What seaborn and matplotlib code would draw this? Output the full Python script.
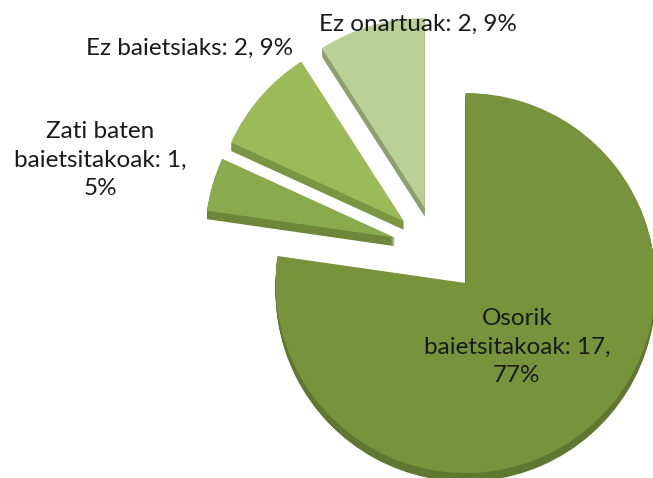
import matplotlib
matplotlib.use("Agg")
import matplotlib.pyplot as plt
import seaborn as sns
import numpy as np

# data
categories = ["Osorik baietsitakoak", "Zati baten baietsitakoak", "Ez baietsiaks", "Ez onartuak"]
counts = [17, 1, 2, 2]
percents = [77, 5, 9, 9]
label_text = [
    "Osorik\nbaietsitakoak: 17,\n77%",
    "Zati baten\nbaietsitakoak: 1,\n5%",
    "Ez baietsiaks: 2, 9%",
    "Ez onartuak: 2, 9%",
]
top_colors = ["#77933C", "#8AAA4E", "#9BBB59", "#BBD097"]
side_colors = ["#5F7730", "#6C873A", "#7A9642", "#8FA070"]

sns.set_theme(style="white")
plt.rcParams["font.family"] = ["Lato", "DejaVu Sans"]

W, H = 653, 478
fig = plt.figure(figsize=(W / 100, H / 100), dpi=100)
ax = fig.add_axes([0, 0, 1, 1])

R_PX = 190.0           # pie radius in pixels
CX, CY = 437.0, 250.0  # pie centre in pixels (from top-left)
explode = [0.23] * len(counts)

# fake 3d depth: stack of darker copies shifted downwards
depth = 0.045
for dz in np.linspace(depth, 0.004, 10):
    ax.pie(counts, startangle=90, counterclock=False, explode=explode,
           colors=sns.color_palette(side_colors), center=(0, -dz),
           wedgeprops=dict(linewidth=0))
ax.pie(counts, startangle=90, counterclock=False, explode=explode,
       colors=sns.color_palette(top_colors), center=(0, 0),
       wedgeprops=dict(linewidth=0))

ax.set_xlim(-CX / R_PX, (W - CX) / R_PX)
ax.set_ylim(-(H - CY) / R_PX, CY / R_PX)
ax.set_aspect("equal")
ax.axis("off")

# label positions (pixel centres, measured from top-left)
label_pos = [(517, 347), (100, 160), (190, 48), (418, 24)]
for txt, (px, py) in zip(label_text, label_pos):
    fig.text(px / W, 1 - py / H, txt, ha="center", va="center",
             fontsize=17.5, color="#1a1a1a", linespacing=1.42)

fig.savefig("out.png", dpi=100)
